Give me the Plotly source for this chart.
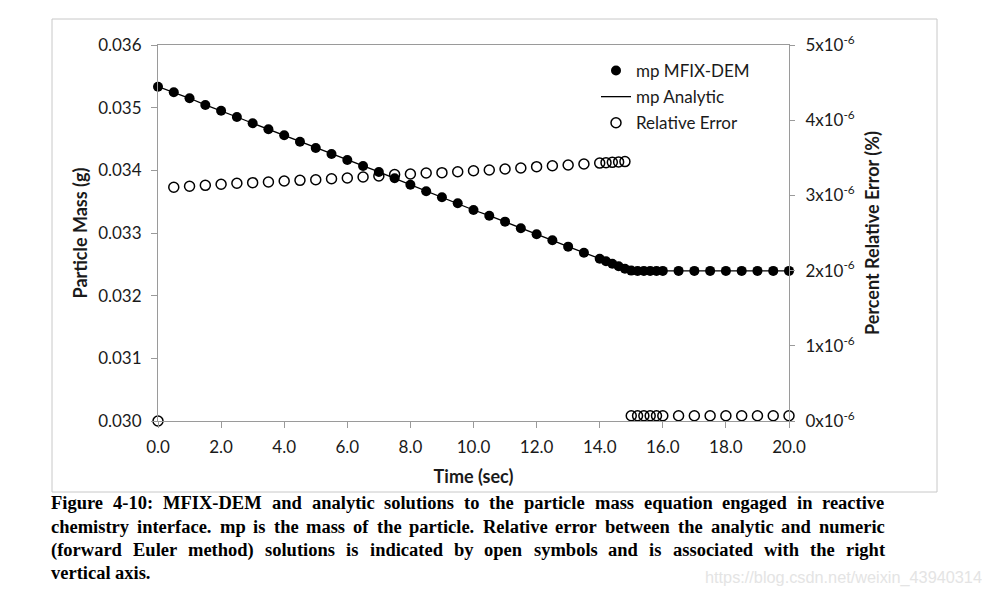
import plotly.graph_objects as go

# ---------------- data ----------------
time_s = [0.0, 0.5, 1.0, 1.5, 2.0, 2.5, 3.0, 3.5, 4.0, 4.5, 5.0, 5.5, 6.0, 6.5, 7.0,
          7.5, 8.0, 8.5, 9.0, 9.5, 10.0, 10.5, 11.0, 11.5, 12.0, 12.5, 13.0, 13.5, 14.0,
          14.2, 14.4, 14.6, 14.8, 15.0, 15.2, 15.4, 15.6, 15.8, 16.0,
          16.5, 17.0, 17.5, 18.0, 18.5, 19.0, 19.5, 20.0]

mp_mfix = [0.035335, 0.035245, 0.035150, 0.035043, 0.034952, 0.034851, 0.034751, 0.034655,
           0.034559, 0.034457, 0.034356, 0.034261, 0.034165, 0.034069, 0.033974, 0.033873,
           0.033771, 0.033666, 0.033570, 0.033474, 0.033367, 0.033276, 0.033181, 0.033075,
           0.032979, 0.032884, 0.032782, 0.032686, 0.032590,
           0.032550, 0.032510, 0.032470, 0.032430, 0.032400, 0.032395, 0.032395, 0.032395,
           0.032395, 0.032395,
           0.032395, 0.032395, 0.032395, 0.032395, 0.032395, 0.032395, 0.032395, 0.032395]

mp_analytic = list(mp_mfix)

rel_error = [0.0, 3.108e-6, 3.121e-6, 3.134e-6, 3.148e-6, 3.161e-6, 3.169e-6, 3.178e-6,
             3.191e-6, 3.200e-6, 3.208e-6, 3.222e-6, 3.231e-6, 3.245e-6, 3.258e-6, 3.278e-6,
             3.285e-6, 3.298e-6, 3.302e-6, 3.315e-6, 3.328e-6, 3.338e-6, 3.351e-6, 3.364e-6,
             3.382e-6, 3.395e-6, 3.404e-6, 3.418e-6, 3.430e-6,
             3.435e-6, 3.440e-6, 3.445e-6, 3.450e-6, 0.07e-6, 0.07e-6, 0.07e-6, 0.07e-6,
             0.07e-6, 0.07e-6,
             0.07e-6, 0.07e-6, 0.07e-6, 0.07e-6, 0.07e-6, 0.07e-6, 0.07e-6, 0.07e-6]

x_ticks = [0, 2, 4, 6, 8, 10, 12, 14, 16, 18, 20]
y2_tickvals = [0, 1e-6, 2e-6, 3e-6, 4e-6, 5e-6]
y2_ticktext = ["0x10<sup>-6</sup>", "1x10<sup>-6</sup>", "2x10<sup>-6</sup>",
               "3x10<sup>-6</sup>", "4x10<sup>-6</sup>", "5x10<sup>-6</sup>"]

caption_lines = [
    "Figure 4-10: MFIX-DEM and analytic solutions to the particle mass equation engaged in reactive",
    "chemistry interface. mp is the mass of the particle. Relative error between the analytic and numeric",
    "(forward Euler method) solutions is indicated by open symbols and is associated with the right",
    "vertical axis.",
]

# ---------------- layout constants ----------------
OFF = 8                      # page body margin
W, H = 990 - OFF, 596 - OFF
L, T = 158 - OFF, 45 - OFF
R = W - (789 - OFF)
B = H - (421 - OFF)
PW, PH = W - L - R, H - T - B

def px2x(px):                # page pixel -> paper x
    return (px - OFF - L) / PW

def py2y(py):                # page pixel -> paper y
    return (H - B - (py - OFF)) / PH

AXIS_COL = "#9a9a9a"
TXT_COL = "#1a1a1a"
SANS = "Lato"

fig = go.Figure()
fig.add_trace(go.Scatter(
    x=time_s, y=mp_mfix, mode="markers", name="mp MFIX-DEM", cliponaxis=False,
    marker=dict(symbol="circle", size=10, color="black"),
    legendgroup="a"))
fig.add_trace(go.Scatter(
    x=time_s, y=mp_analytic, mode="lines", name="mp Analytic", cliponaxis=False,
    line=dict(color="black", width=1.3), legendgroup="b"))
fig.add_trace(go.Scatter(
    x=time_s, y=rel_error, mode="markers", name="Relative Error", yaxis="y2", cliponaxis=False,
    marker=dict(symbol="circle-open", size=10, color="black", line=dict(width=1.5)),
    legendgroup="c"))

fig.update_layout(
    width=W, height=H,
    margin=dict(l=L, r=R, t=T, b=B, pad=0),
    paper_bgcolor="white", plot_bgcolor="white",
    font=dict(family=SANS, size=17, color=TXT_COL),
    showlegend=True,
    legend=dict(x=px2x(596), y=py2y(53), xanchor="left", yanchor="top",
                bgcolor="rgba(0,0,0,0)", font=dict(family=SANS, size=17, color=TXT_COL),
                tracegroupgap=1, traceorder="grouped"),
    xaxis=dict(range=[0, 20], tickvals=x_ticks, tickformat=".1f",
               showline=True, linecolor=AXIS_COL, linewidth=1, mirror=True,
               ticks="outside", ticklen=6, tickcolor=AXIS_COL, ticklabelstandoff=5,
               showgrid=False, zeroline=False,
               title=dict(text="<b>Time (sec)</b>", font=dict(family=SANS, size=18), standoff=13)),
    yaxis=dict(range=[0.030, 0.036], dtick=0.001, tickformat=".3f",
               showline=True, linecolor=AXIS_COL, linewidth=1,
               ticks="outside", ticklen=6, tickcolor=AXIS_COL, ticklabelstandoff=6,
               showgrid=False, zeroline=False,
               title=dict(text="<b>Particle Mass (g)</b>", font=dict(family=SANS, size=18), standoff=5)),
    yaxis2=dict(range=[0, 5e-6], overlaying="y", side="right", anchor="x",
                tickvals=y2_tickvals, ticktext=y2_ticktext,
                showline=True, linecolor=AXIS_COL, linewidth=1,
                ticks="outside", ticklen=5, tickcolor=AXIS_COL, ticklabelstandoff=7,
                showgrid=False, zeroline=False,
                title=dict(text="<b>Percent Relative Error (%)</b>", font=dict(family=SANS, size=18), standoff=12)),
    yaxis3=dict(range=[0, 5e-6], overlaying="y", side="right", anchor="x",
                tickvals=y2_tickvals, showticklabels=False,
                ticks="inside", ticklen=5, tickcolor=AXIS_COL,
                showgrid=False, zeroline=False, showline=False),
)

# outer chart frame
fig.add_shape(type="rect", xref="paper", yref="paper",
              x0=px2x(52), x1=px2x(937), y0=py2y(492), y1=py2y(19),
              line=dict(color="#c8c8c8", width=1), fillcolor="rgba(0,0,0,0)", layer="below")

# ---------------- caption (justified, Times-Bold metrics) ----------------
TB = {' ': 250, '(': 333, ')': 333, '-': 333, '.': 250, ':': 333,
      '0': 500, '1': 500, '2': 500, '3': 500, '4': 500, '5': 500, '6': 500, '7': 500, '8': 500, '9': 500,
      'A': 722, 'D': 722, 'E': 667, 'F': 611, 'I': 389, 'M': 944, 'R': 722, 'X': 722,
      'a': 500, 'b': 556, 'c': 444, 'd': 556, 'e': 444, 'f': 333, 'g': 500, 'h': 556, 'i': 278,
      'j': 333, 'k': 556, 'l': 278, 'm': 833, 'n': 556, 'o': 500, 'p': 556, 'q': 556, 'r': 444,
      's': 389, 't': 333, 'u': 556, 'v': 500, 'w': 722, 'x': 500, 'y': 500, 'z': 444}
CAP_SIZE = 18.5
CAP_X0, CAP_X1 = 50, 884
cap_y = [503, 527, 550, 573]

def wwidth(w):
    return sum(TB.get(c, 500) for c in w) * CAP_SIZE / 1000.0

for i, line in enumerate(caption_lines):
    words = line.split(" ")
    justify = i < len(caption_lines) - 1
    if justify and len(words) > 1:
        total = sum(wwidth(w) for w in words)
        gap = (CAP_X1 - CAP_X0 - total) / (len(words) - 1)
    else:
        gap = wwidth(" ")
    xpos = CAP_X0
    for w in words:
        fig.add_annotation(x=px2x(xpos), y=py2y(cap_y[i]), xref="paper", yref="paper",
                           text="<b>" + w + "</b>", showarrow=False,
                           xanchor="left", yanchor="middle", borderpad=0,
                           font=dict(family="Liberation Serif", size=CAP_SIZE, color="black"))
        xpos += wwidth(w) + gap

# watermark
fig.add_annotation(x=px2x(843), y=py2y(577), xref="paper", yref="paper",
                   text="https://blog.csdn.net/weixin_43940314", showarrow=False,
                   xanchor="center", yanchor="middle",
                   font=dict(family="Liberation Sans", size=16.3, color="#e4e4e4"))

fig.write_html("out.html")
